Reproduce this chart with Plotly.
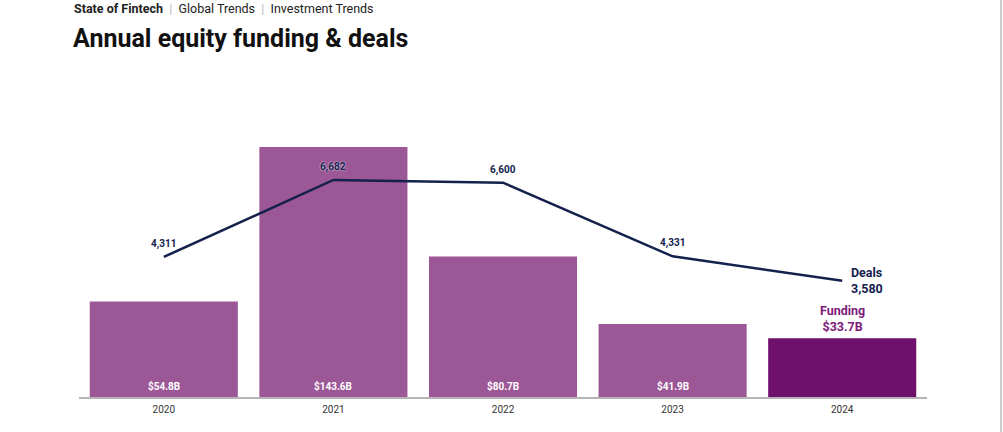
import plotly.graph_objects as go

years = ["2020", "2021", "2022", "2023", "2024"]
funding = [54.8, 143.6, 80.7, 41.9, 33.7]
funding_labels = ["$54.8B", "$143.6B", "$80.7B", "$41.9B", "$33.7B"]
deals = [4311, 6682, 6600, 4331, 3580]
deal_labels = ["4,311", "6,682", "6,600", "4,331", "3,580"]

BAR = "#9b5796"
BAR_LAST = "#6f106c"
NAVY = "#14214d"
FONT = "Roboto"

fig = go.Figure()
fig.add_trace(go.Bar(
    x=years, y=funding,
    marker=dict(color=[BAR] * 4 + [BAR_LAST], line=dict(width=0)),
    hoverinfo="skip", showlegend=False,
))
fig.add_trace(go.Scatter(
    x=years, y=deals, yaxis="y2", mode="lines",
    line=dict(color=NAVY, width=2.5),
    hoverinfo="skip", showlegend=False,
))

n = len(years)
ann = []
# category axis: numeric-looking names are read as indices in annotations, so use index
for i in range(n - 1):
    ann.append(dict(x=i, y=0, xref="x", yref="y", text="<b>%s</b>" % funding_labels[i],
                    showarrow=False, yanchor="bottom", yshift=3,
                    font=dict(family=FONT, size=10, color="white")))
for i in range(n - 1):
    ann.append(dict(x=i, y=deals[i], xref="x", yref="y2",
                    text="<b>%s</b>" % deal_labels[i],
                    showarrow=False, yanchor="middle", yshift=13,
                    font=dict(family=FONT, size=10, color=NAVY,
                              shadow="0px 0px 2px white")))
ann.append(dict(x=n - 1, y=deals[-1], xref="x", yref="y2",
                text="<b>Deals<br>%s</b>" % deal_labels[-1], showarrow=False,
                xanchor="left", yanchor="middle", xshift=7, align="left",
                font=dict(family=FONT, size=12.5, color=NAVY)))
ann.append(dict(x=n - 1, y=funding[-1], xref="x", yref="y",
                text="<b>Funding<br>%s</b>" % funding_labels[-1], showarrow=False,
                xanchor="center", yanchor="bottom", yshift=2, align="center",
                font=dict(family=FONT, size=12.5, color="#7d1a7a")))
# header
sep = "&nbsp;&nbsp;<span style='color:#bbbbbb'>|</span>&nbsp;&nbsp;"
ann.append(dict(x=72, y=8, xref="paper", yref="paper", showarrow=False,
                text="<b>State of Fintech</b>" + sep + "Global Trends" + sep + "Investment Trends",
                font=dict(family=FONT, size=12.5, color="#222222"),
                xanchor="left", yanchor="middle"))
ann.append(dict(x=71, y=38, xref="paper", yref="paper", showarrow=False,
                text="<b>Annual equity funding & deals</b>",
                font=dict(family=FONT, size=25, color="#111111"),
                xanchor="left", yanchor="middle"))

# convert header positions from pixels to paper coords
W, H = 1003, 432
L, R, T, B = 79, 76, 100, 35
pw, ph = W - L - R, H - T - B
for a in ann[-2:]:
    a["x"] = (a["x"] - L) / pw
    a["y"] = (H - B - a["y"]) / ph

fig.update_layout(
    width=W, height=H,
    margin=dict(l=L, r=R, t=T, b=B, pad=0),
    paper_bgcolor="white", plot_bgcolor="white",
    bargap=0.127,
    font=dict(family=FONT),
    xaxis=dict(type="category", range=[-0.5, n - 0.5],
               showline=True, linecolor="#b5b5b5", linewidth=1.5,
               showgrid=False, ticks="", tickfont=dict(size=10, color="#333333"),
               ticklabelstandoff=2, fixedrange=True),
    yaxis=dict(range=[0, 170.6], visible=False, showgrid=False, fixedrange=True),
    yaxis2=dict(range=[0, 9144], overlaying="y", visible=False, showgrid=False,
                fixedrange=True),
    annotations=ann,
    shapes=[dict(type="line", xref="paper", yref="paper",
                 x0=(1001 - L) / pw, x1=(1001 - L) / pw,
                 y0=(H - B) / ph, y1=-(B) / ph,
                 line=dict(color="#cccccc", width=2))],
)
fig.write_html("out.html")
